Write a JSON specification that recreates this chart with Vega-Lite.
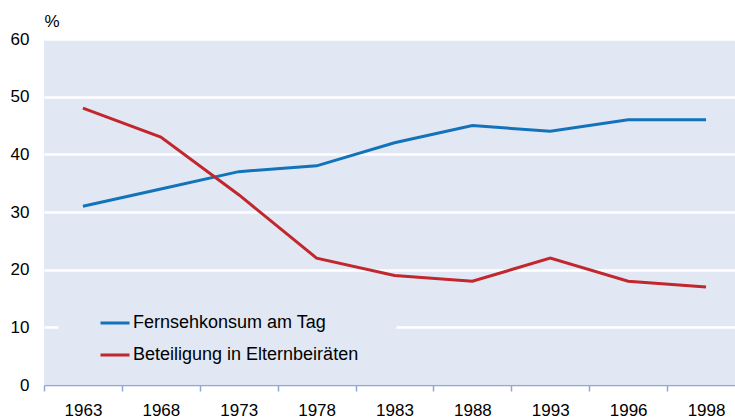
{
  "$schema": "https://vega.github.io/schema/vega-lite/v6.json",
  "width": 691,
  "height": 346,
  "autosize": {"type": "none"},
  "padding": {"left": 44, "top": 39, "right": 0, "bottom": 34},
  "background": "white",
  "config": {
    "view": {"fill": "#e1e8f4", "stroke": null},
    "font": "Liberation Sans"
  },
  "data": {
    "values": [
      {"year": "1963", "series": "Fernsehkonsum am Tag", "value": 31},
      {"year": "1968", "series": "Fernsehkonsum am Tag", "value": 34},
      {"year": "1973", "series": "Fernsehkonsum am Tag", "value": 37},
      {"year": "1978", "series": "Fernsehkonsum am Tag", "value": 38},
      {"year": "1983", "series": "Fernsehkonsum am Tag", "value": 42},
      {"year": "1988", "series": "Fernsehkonsum am Tag", "value": 45},
      {"year": "1993", "series": "Fernsehkonsum am Tag", "value": 44},
      {"year": "1996", "series": "Fernsehkonsum am Tag", "value": 46},
      {"year": "1998", "series": "Fernsehkonsum am Tag", "value": 46},
      {"year": "1963", "series": "Beteiligung in Elternbeiräten", "value": 48},
      {"year": "1968", "series": "Beteiligung in Elternbeiräten", "value": 43},
      {"year": "1973", "series": "Beteiligung in Elternbeiräten", "value": 33},
      {"year": "1978", "series": "Beteiligung in Elternbeiräten", "value": 22},
      {"year": "1983", "series": "Beteiligung in Elternbeiräten", "value": 19},
      {"year": "1988", "series": "Beteiligung in Elternbeiräten", "value": 18},
      {"year": "1993", "series": "Beteiligung in Elternbeiräten", "value": 22},
      {"year": "1996", "series": "Beteiligung in Elternbeiräten", "value": 18},
      {"year": "1998", "series": "Beteiligung in Elternbeiräten", "value": 17}
    ]
  },
  "mark": {"type": "line", "strokeWidth": 3, "clip": false},
  "encoding": {
    "x": {
      "field": "year",
      "type": "ordinal",
      "bandPosition": 0.5,
      "scale": {"type": "band", "paddingInner": 0, "paddingOuter": 0, "range": [0, 701]},
      "axis": {
        "title": null,
        "labelAngle": 0,
        "labelFontSize": 17,
        "labelColor": "#000000",
        "labelPadding": 11,
        "tickBand": "extent",
        "domainColor": "#8fa8d8",
        "domainWidth": 1.5,
        "tickColor": "#8fa8d8",
        "tickWidth": 1.5,
        "tickSize": 6,
        "grid": false
      }
    },
    "y": {
      "field": "value",
      "type": "quantitative",
      "scale": {"domain": [0, 60], "nice": false},
      "axis": {
        "values": [0, 10, 20, 30, 40, 50, 60],
        "title": "%",
        "titleAngle": 0,
        "titleX": 0,
        "titleY": -13,
        "titleAlign": "left",
        "titleBaseline": "alphabetic",
        "titleFontSize": 17,
        "titleFontWeight": "normal",
        "titleColor": "#000000",
        "labelFontSize": 17,
        "labelColor": "#000000",
        "labelPadding": 15,
        "domain": false,
        "ticks": false,
        "grid": true,
        "gridColor": "white",
        "gridWidth": 2.5,
        "gridOpacity": 1,
        "gridDash": {"condition": {"test": "datum.value === 10", "value": [14, 338, 1000]}, "value": []}
      }
    },
    "color": {
      "field": "series",
      "type": "nominal",
      "sort": ["Fernsehkonsum am Tag", "Beteiligung in Elternbeiräten"],
      "scale": {"domain": ["Fernsehkonsum am Tag", "Beteiligung in Elternbeiräten"], "range": ["#1273bb", "#c1272d"]},
      "legend": {
        "title": null,
        "orient": "none",
        "legendX": 55,
        "legendY": 268,
        "padding": 0,
        "symbolType": "stroke",
        "symbolSize": 841,
        "symbolStrokeWidth": 3,
        "labelFontSize": 18,
        "labelColor": "#000000",
        "labelOffset": 2,
        "rowPadding": 7,
        "labelLimit": 400
      }
    }
  }
}
